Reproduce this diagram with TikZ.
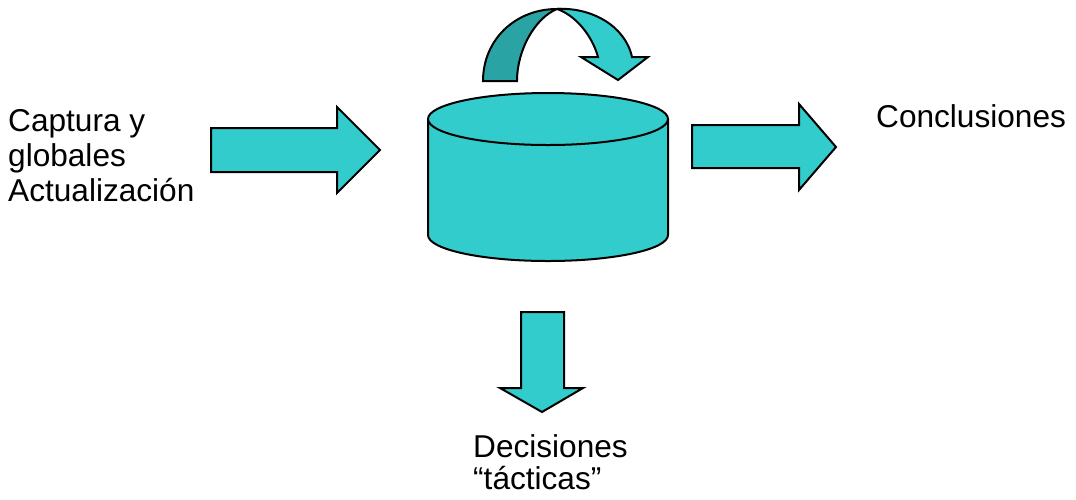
\documentclass[tikz,border=0pt]{standalone}
\usepackage{fontspec}
\setmainfont{Liberation Sans}
\definecolor{aqua}{RGB}{51,204,204}
\definecolor{aquadark}{RGB}{41,163,163}
\begin{document}
\begin{tikzpicture}[x=1pt,y=-1pt,
  blockshape/.style={draw=black,line width=2pt,line join=miter,fill=aqua},
  textlabel/.style={inner sep=0pt,anchor=base west,align=left,
    font=\fontsize{31.6}{35}\selectfont}]
\useasboundingbox (0,0) rectangle (1076,499);

% input arrow
\draw[blockshape] (211,128) -- (337,128) -- (337,107) -- (380,150) -- (337,193)
  -- (337,172) -- (211,172) -- cycle;

% output arrow
\draw[blockshape] (692,125) -- (799,125) -- (799,104) -- (836,147) -- (799,190)
  -- (799,168) -- (692,168) -- cycle;

% downward arrow
\draw[blockshape] (521,312) -- (564,312) -- (564,388) -- (583,388) -- (542,412)
  -- (500,388) -- (521,388) -- cycle;

% cylinder body and top face
\draw[blockshape] (428,119) -- (428,235)
  arc[start angle=180,end angle=0,x radius=120,y radius=26] -- (668,119);
\draw[blockshape] (548,119) ellipse[x radius=120,y radius=26];

% curved arrow: back side of the band
\draw[blockshape,fill=aquadark] (483,81) .. controls (483,40) and (515,9) .. (557,9)
  .. controls (535,18) and (517,50) .. (517,81) -- cycle;
% curved arrow: front side with head
\draw[blockshape] (557,9) .. controls (590,7) and (625,25) .. (632,57)
  -- (648,57) -- (618,80) -- (581,57) -- (598,57)
  .. controls (592,35) and (575,15) .. (557,9) -- cycle;

% labels (anchored on the baseline of their last line)
\node[textlabel] (entrada) at (8,201) {Captura y\\globales\\Actualización};
\node[textlabel] (salida) at (876,127) {Conclusiones};
\node[textlabel,font=\fontsize{31.6}{32}\selectfont] (decision) at (473,489)
  {Decisiones\\“tácticas”};
\end{tikzpicture}
\end{document}
